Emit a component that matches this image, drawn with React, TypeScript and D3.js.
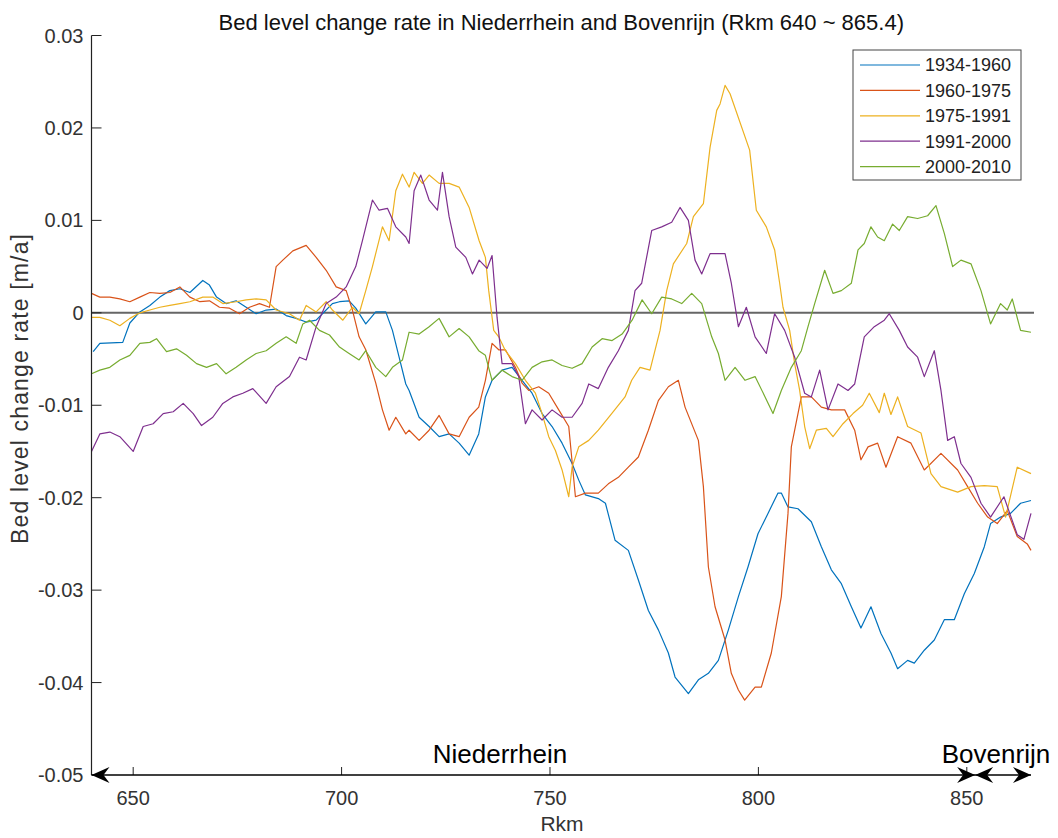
import React, { useRef, useEffect } from "react";
import * as d3 from "d3";

// [Rkm, bed level change rate in m/a]
const s1934_1960 = [
  [640.4, -0.0042], [642.0, -0.0033], [647.5, -0.0032], [649.2, -0.0011], [651.6, 0.0001],
  [654.0, 0.0008], [656.4, 0.0017], [658.8, 0.0024], [661.2, 0.0026], [663.6, 0.0022],
  [666.7, 0.0035], [668.3, 0.003], [670.0, 0.0017], [672.3, 0.001], [674.7, 0.0013],
  [677.1, 0.0006], [679.5, -0.0001], [681.9, 0.0003], [684.3, 0.0004], [686.7, -0.0003],
  [689.1, -0.0006], [691.5, -0.001], [693.9, -0.0008], [695.4, -0.0001], [697.8, 0.001],
  [699.5, 0.0012], [701.8, 0.0013], [703.4, 0.0005], [705.8, -0.0012], [708.2, 0.0001],
  [710.6, 0.0001], [712.2, -0.0019], [713.8, -0.0048], [715.4, -0.0077], [716.2, -0.0084],
  [718.6, -0.0113], [721.0, -0.0123], [723.4, -0.0134], [725.8, -0.0131], [728.2, -0.0141],
  [730.6, -0.0154], [732.9, -0.0131], [734.5, -0.0091], [736.1, -0.0073], [738.5, -0.0062],
  [740.9, -0.0059], [743.3, -0.0073], [745.7, -0.0087], [748.1, -0.0109], [750.5, -0.0123],
  [752.9, -0.0141], [755.3, -0.0163], [756.9, -0.0181], [758.5, -0.0197], [761.6, -0.0201],
  [763.3, -0.0206], [765.6, -0.0246], [768.8, -0.0257], [771.2, -0.0289], [773.6, -0.0322],
  [776.0, -0.0343], [778.4, -0.0368], [780.0, -0.0394], [783.2, -0.0412], [785.6, -0.0397],
  [788.0, -0.039], [790.4, -0.0376], [792.8, -0.0343], [795.2, -0.0307], [797.5, -0.0275],
  [799.9, -0.0239], [802.3, -0.0217], [804.7, -0.0195], [805.5, -0.0195], [807.1, -0.021],
  [809.5, -0.0212], [812.7, -0.0226], [815.1, -0.0253], [817.5, -0.0278], [819.9, -0.0293],
  [822.3, -0.0318], [824.6, -0.0341], [827.0, -0.0318], [829.4, -0.0347], [831.8, -0.0368],
  [833.4, -0.0385], [835.8, -0.0376], [837.4, -0.0379], [839.8, -0.0365], [842.2, -0.0354],
  [844.6, -0.0332], [847.0, -0.0332], [849.4, -0.0304], [851.8, -0.0282], [854.2, -0.0253],
  [855.7, -0.0228], [858.1, -0.0221], [860.5, -0.0217], [862.9, -0.0206], [865.4, -0.0203],
];

const s1960_1975 = [
  [640.0, 0.0021], [642.0, 0.0017], [644.4, 0.0017], [646.8, 0.0015], [649.2, 0.0012],
  [651.6, 0.0017], [654.0, 0.0022], [656.4, 0.0021], [658.8, 0.0022], [661.2, 0.0028],
  [663.6, 0.0017], [666.0, 0.0012], [668.3, 0.0013], [670.7, 0.0006], [673.1, 0.0005],
  [675.5, -0.0001], [677.9, 0.0006], [680.3, 0.001], [682.7, 0.0006], [684.3, 0.005],
  [685.9, 0.0057], [688.3, 0.0067], [691.5, 0.0073], [693.9, 0.006], [696.3, 0.0046],
  [698.7, 0.0028], [701.1, 0.0024], [702.6, 0.0003], [704.2, -0.0026], [705.8, -0.004],
  [708.2, -0.0076], [709.8, -0.0105], [711.4, -0.0127], [713.0, -0.0113], [715.4, -0.0131],
  [716.2, -0.0127], [718.6, -0.0138], [721.0, -0.0127], [723.4, -0.0111], [725.8, -0.0131],
  [728.2, -0.0134], [730.6, -0.0113], [732.9, -0.0102], [734.5, -0.0073], [736.1, -0.0033],
  [737.7, -0.004], [739.3, -0.004], [741.7, -0.0059], [743.3, -0.0076], [744.9, -0.0084],
  [747.3, -0.008], [749.7, -0.0087], [752.1, -0.0105], [754.5, -0.0123], [756.1, -0.0199],
  [758.5, -0.0195], [761.6, -0.0195], [764.0, -0.0185], [766.4, -0.0178], [768.8, -0.0167],
  [771.2, -0.0156], [773.6, -0.0127], [776.0, -0.0095], [778.4, -0.008], [780.8, -0.0073],
  [782.4, -0.0102], [785.6, -0.0138], [786.8, -0.0188], [788.0, -0.0275], [789.6, -0.0318],
  [792.0, -0.0354], [793.5, -0.039], [795.2, -0.0408], [796.7, -0.0419], [799.2, -0.0405],
  [800.7, -0.0405], [803.1, -0.0368], [805.5, -0.0307], [807.1, -0.0217], [807.9, -0.0145],
  [810.3, -0.0091], [812.7, -0.0091], [815.1, -0.0102], [817.5, -0.0105], [820.7, -0.0105],
  [823.1, -0.0127], [824.6, -0.0159], [826.3, -0.0145], [828.6, -0.0141], [830.6, -0.0167],
  [833.4, -0.0134], [836.6, -0.0141], [839.8, -0.017], [843.8, -0.0152], [847.8, -0.017],
  [850.2, -0.0188], [852.6, -0.0206], [855.0, -0.0221], [857.3, -0.0228], [859.7, -0.0214],
  [862.1, -0.0242], [864.5, -0.025], [865.4, -0.0257],
];

const s1975_1991 = [
  [640.0, -0.0005], [642.0, -0.0005], [644.4, -0.0008], [646.8, -0.0014], [649.2, -0.0006],
  [651.6, 0.0], [654.0, 0.0003], [656.4, 0.0006], [658.8, 0.0008], [661.2, 0.001],
  [663.6, 0.0012], [666.7, 0.0017], [669.1, 0.0017], [671.5, 0.001], [674.7, 0.0012],
  [677.1, 0.0014], [679.5, 0.0015], [681.9, 0.0014], [684.3, 0.0003], [687.5, -0.0001],
  [689.9, -0.0008], [691.5, 0.0008], [693.9, 0.0001], [696.3, 0.0012], [697.8, 0.0003],
  [700.3, -0.0008], [702.6, 0.0006], [704.2, -0.0001], [705.8, 0.0024], [707.4, 0.005],
  [709.8, 0.0093], [711.4, 0.0078], [713.0, 0.0132], [714.6, 0.015], [716.2, 0.0136],
  [717.4, 0.0152], [719.4, 0.014], [721.0, 0.0149], [723.4, 0.014], [725.8, 0.014],
  [728.2, 0.0136], [730.6, 0.0114], [733.0, 0.0078], [734.5, 0.006], [735.3, 0.0024],
  [736.5, -0.0019], [737.7, -0.0026], [739.3, -0.0041], [741.7, -0.0055], [744.1, -0.0073],
  [746.5, -0.0087], [748.1, -0.0109], [749.7, -0.0134], [751.3, -0.0149], [752.9, -0.017],
  [754.5, -0.0199], [755.3, -0.0167], [756.9, -0.0145], [759.3, -0.0138], [761.6, -0.0127],
  [764.8, -0.0109], [768.0, -0.0091], [769.6, -0.0073], [771.6, -0.0059], [774.0, -0.0062],
  [776.4, -0.0019], [778.0, 0.0024], [779.6, 0.0053], [782.8, 0.0075], [784.4, 0.0104],
  [786.8, 0.0118], [788.4, 0.0179], [790.0, 0.0219], [790.8, 0.0226], [792.0, 0.0246],
  [793.2, 0.0237], [797.9, 0.0176], [799.5, 0.0111], [801.9, 0.0093], [803.9, 0.0068],
  [805.1, 0.0032], [805.9, 0.0006], [807.5, -0.0019], [808.7, -0.0055], [809.9, -0.0084],
  [811.1, -0.0123], [812.3, -0.0147], [813.9, -0.0127], [816.3, -0.0125], [817.9, -0.0134],
  [820.3, -0.012], [822.7, -0.0109], [825.0, -0.01], [826.6, -0.0087], [829.0, -0.0108],
  [830.2, -0.0087], [831.8, -0.011], [833.4, -0.0091], [835.8, -0.0123], [839.0, -0.013],
  [841.4, -0.0174], [843.8, -0.0188], [847.8, -0.0194], [851.0, -0.0188], [854.2, -0.0187],
  [857.3, -0.0188], [859.3, -0.0221], [862.1, -0.0167], [865.4, -0.0174],
];

const s1991_2000 = [
  [640.0, -0.015], [642.0, -0.0131], [644.4, -0.0129], [646.8, -0.0134], [650.0, -0.015],
  [652.4, -0.0123], [654.8, -0.012], [657.2, -0.0109], [659.6, -0.0107], [662.0, -0.0098],
  [664.4, -0.0109], [666.4, -0.0122], [669.1, -0.0113], [671.5, -0.0098], [673.9, -0.0091],
  [676.3, -0.0087], [678.7, -0.0082], [681.9, -0.0098], [684.3, -0.008], [687.5, -0.0069],
  [689.9, -0.0048], [691.5, -0.0051], [693.9, -0.0015], [696.3, 0.001], [698.7, 0.0017],
  [701.1, 0.0028], [703.4, 0.005], [705.0, 0.0078], [707.4, 0.0122], [709.0, 0.0111],
  [711.0, 0.0113], [713.0, 0.0093], [715.4, 0.0082], [716.2, 0.0075], [717.4, 0.0132],
  [719.0, 0.0149], [721.0, 0.0122], [723.0, 0.0111], [724.2, 0.0152], [725.8, 0.0104],
  [727.4, 0.0071], [729.8, 0.006], [731.4, 0.0042], [733.0, 0.0057], [734.9, 0.0048],
  [736.1, 0.0062], [737.3, -0.0005], [738.5, -0.0055], [740.9, -0.0055], [742.5, -0.0069],
  [744.1, -0.012], [745.7, -0.0105], [748.1, -0.0116], [750.5, -0.0105], [752.9, -0.0113],
  [755.3, -0.0113], [757.7, -0.0098], [759.3, -0.0077], [761.6, -0.0082], [764.0, -0.0059],
  [766.4, -0.0041], [768.8, -0.0019], [770.4, 0.0024], [772.0, 0.0032], [774.4, 0.0089],
  [776.8, 0.0093], [779.2, 0.0098], [781.2, 0.0114], [783.2, 0.01], [784.8, 0.0057],
  [786.4, 0.0042], [788.4, 0.0064], [790.4, 0.0064], [792.0, 0.0064], [793.5, 0.0032],
  [795.2, -0.0015], [797.1, 0.0006], [799.2, -0.0026], [801.9, -0.0044], [803.9, -0.0001],
  [806.3, -0.0019], [808.7, -0.0048], [811.1, -0.0087], [812.7, -0.0091], [814.7, -0.0062],
  [816.7, -0.0105], [819.1, -0.0077], [821.5, -0.0084], [823.1, -0.0077], [825.4, -0.0026],
  [827.8, -0.0015], [830.2, -0.0008], [831.4, -0.0001], [833.8, -0.0019], [835.8, -0.0037],
  [838.2, -0.0048], [839.8, -0.0069], [842.2, -0.0041], [843.8, -0.0084], [845.4, -0.0138],
  [847.0, -0.0134], [848.6, -0.0163], [851.0, -0.0178], [853.4, -0.0206], [855.7, -0.0221],
  [858.9, -0.0199], [862.1, -0.024], [863.7, -0.0245], [865.4, -0.0217],
];

const s2000_2010 = [
  [640.0, -0.0066], [642.0, -0.0062], [644.4, -0.0059], [646.8, -0.0051], [649.2, -0.0046],
  [651.6, -0.0033], [654.0, -0.0032], [655.6, -0.0028], [658.0, -0.0042], [660.4, -0.0039],
  [662.8, -0.0046], [665.2, -0.0055], [667.6, -0.0059], [670.0, -0.0055], [672.3, -0.0066],
  [674.7, -0.0059], [677.1, -0.0051], [679.5, -0.0044], [681.9, -0.0041], [684.3, -0.0033],
  [686.7, -0.0026], [689.1, -0.0033], [690.7, -0.0012], [692.3, -0.0008], [694.7, -0.0019],
  [697.1, -0.0024], [699.5, -0.0037], [701.8, -0.0044], [704.2, -0.0051], [705.8, -0.0041],
  [708.2, -0.0059], [710.6, -0.0069], [712.2, -0.0059], [714.6, -0.0051], [716.2, -0.0021],
  [718.6, -0.0023], [721.0, -0.0015], [723.4, -0.0006], [725.8, -0.0026], [728.2, -0.0017],
  [730.6, -0.0026], [732.9, -0.0041], [734.5, -0.0046], [736.1, -0.0073], [738.5, -0.0062],
  [740.9, -0.0069], [743.3, -0.0073], [745.7, -0.0059], [748.1, -0.0053], [750.5, -0.0051],
  [752.9, -0.0057], [755.3, -0.006], [757.7, -0.0055], [760.1, -0.0037], [762.5, -0.0028],
  [764.9, -0.003], [767.3, -0.0023], [769.7, -0.0008], [772.1, 0.0014], [774.4, -0.0001],
  [776.8, 0.0017], [779.2, 0.0015], [781.6, 0.001], [784.0, 0.0021], [786.4, 0.001],
  [788.8, -0.0026], [790.4, -0.0044], [792.0, -0.0073], [794.4, -0.0059], [796.8, -0.0073],
  [799.2, -0.0069], [801.6, -0.0091], [803.5, -0.0109], [805.5, -0.0084], [807.9, -0.0059],
  [810.3, -0.0041], [811.9, -0.0015], [813.5, 0.001], [815.9, 0.0046], [817.9, 0.0021],
  [819.9, 0.0024], [822.3, 0.0032], [823.9, 0.0068], [825.4, 0.0075], [827.0, 0.0093],
  [828.6, 0.0082], [830.2, 0.0078], [832.2, 0.0096], [833.8, 0.0089], [835.8, 0.0104],
  [838.2, 0.0102], [840.6, 0.0105], [842.6, 0.0116], [844.6, 0.0086], [846.6, 0.005],
  [848.6, 0.0057], [851.0, 0.0053], [853.4, 0.0024], [855.7, -0.0012], [858.1, 0.001],
  [859.7, 0.0003], [860.9, 0.0015], [862.9, -0.0019], [865.4, -0.0021],
];

const seriesNames = ["1934-1960", "1960-1975", "1975-1991", "1991-2000", "2000-2010"];
const seriesColors = ["#0072BD", "#D95319", "#EDB120", "#7E2F8E", "#77AC30"];
const seriesData = [s1934_1960, s1960_1975, s1975_1991, s1991_2000, s2000_2010];

const xTicks = [650, 700, 750, 800, 850];
const yTicks = [0.03, 0.02, 0.01, 0, -0.01, -0.02, -0.03, -0.04, -0.05];

// river reaches drawn as arrows along the x axis
const reaches = [
  { name: "Niederrhein", from: 640, to: 852, labelAt: 738 },
  { name: "Bovenrijn", from: 852, to: 865.4, labelAt: 857 },
];

const FONT = "'Liberation Sans', Arial, Helvetica, sans-serif";

const App = () => {
  const svgRef = useRef(null);

  useEffect(() => {
    document.body.style.margin = "0";
    const svg = d3.select(svgRef.current);
    svg.selectAll("*").remove();

    const width = 1058;
    const height = 838;
    svg.attr("width", width).attr("height", height).style("background", "#fff");

    const x = d3.scaleLinear().domain([640, 865.4]).range([91.5, 1031]);
    const y = d3.scaleLinear().domain([-0.05, 0.03]).range([775, 35.5]);

    const y0 = y(-0.05);

    // Title
    svg.append("text")
      .attr("x", (x(640) + x(865.4)) / 2)
      .attr("y", 30)
      .attr("text-anchor", "middle")
      .style("font-family", FONT)
      .style("font-size", "22px")
      .style("fill", "#111")
      .text("Bed level change rate in Niederrhein and Bovenrijn (Rkm 640 ~ 865.4)");

    // Zero line
    svg.append("line")
      .attr("x1", x(640)).attr("x2", x(865.4) + 3)
      .attr("y1", y(0)).attr("y2", y(0))
      .style("stroke", "#666")
      .style("stroke-width", 2);

    // Series lines
    const line = d3.line()
      .x(d => x(d[0]))
      .y(d => y(d[1]));

    seriesData.forEach((data, i) => {
      svg.append("path")
        .datum(data)
        .attr("d", line)
        .style("fill", "none")
        .style("stroke", seriesColors[i])
        .style("stroke-width", 1.2)
        .style("stroke-linejoin", "round");
    });

    // Y axis
    const yAxis = svg.append("g");
    yAxis.append("line")
      .attr("x1", x(640)).attr("x2", x(640))
      .attr("y1", y(0.03)).attr("y2", y0)
      .style("stroke", "#222")
      .style("stroke-width", 1.2);
    yTicks.forEach(t => {
      yAxis.append("line")
        .attr("x1", x(640)).attr("x2", x(640) + 10)
        .attr("y1", y(t)).attr("y2", y(t))
        .style("stroke", "#222");
      yAxis.append("text")
        .attr("x", x(640) - 8)
        .attr("y", y(t))
        .attr("dy", "0.35em")
        .attr("text-anchor", "end")
        .style("font-family", FONT)
        .style("font-size", "20px")
        .style("fill", "#333")
        .text(t === 0 ? "0" : t.toFixed(2));
    });

    // X axis ticks and labels
    const xAxis = svg.append("g");
    xTicks.forEach(t => {
      xAxis.append("line")
        .attr("x1", x(t)).attr("x2", x(t))
        .attr("y1", y0).attr("y2", y0 - 8)
        .style("stroke", "#222");
      xAxis.append("text")
        .attr("x", x(t))
        .attr("y", y0 + 30)
        .attr("text-anchor", "middle")
        .style("font-family", FONT)
        .style("font-size", "20px")
        .style("fill", "#333")
        .text(t);
    });

    // Axis line with reach arrows
    xAxis.append("line")
      .attr("x1", x(640)).attr("x2", x(865.4))
      .attr("y1", y0).attr("y2", y0)
      .style("stroke", "#000")
      .style("stroke-width", 1.5);

    const arrowHead = (tip, dir) => {
      const b = tip - dir * 18;
      const n = tip - dir * 12;
      return `M${tip},${y0} L${b},${y0 - 8} L${n},${y0} L${b},${y0 + 8} Z`;
    };

    reaches.forEach(r => {
      xAxis.append("path").attr("d", arrowHead(x(r.from), -1)).style("fill", "#000");
      xAxis.append("path").attr("d", arrowHead(x(r.to), 1)).style("fill", "#000");
      xAxis.append("text")
        .attr("x", x(r.labelAt))
        .attr("y", y0 - 12)
        .attr("text-anchor", "middle")
        .style("font-family", FONT)
        .style("font-size", "26px")
        .style("fill", "#000")
        .text(r.name);
    });

    // Axis labels
    svg.append("text")
      .attr("x", x(750) + 12)
      .attr("y", 831)
      .attr("text-anchor", "middle")
      .style("font-family", FONT)
      .style("font-size", "21px")
      .style("fill", "#333")
      .text("Rkm");

    svg.append("text")
      .attr("transform", "rotate(-90)")
      .attr("x", -389)
      .attr("y", 28)
      .attr("text-anchor", "middle")
      .attr("textLength", 310)
      .attr("lengthAdjust", "spacing")
      .style("font-family", FONT)
      .style("font-size", "23px")
      .style("fill", "#333")
      .text("Bed level change rate [m/a]");

    // Legend
    const legend = svg.append("g").attr("transform", "translate(853,50)");
    legend.append("rect")
      .attr("width", 168).attr("height", 130)
      .style("fill", "#fff")
      .style("stroke", "#444")
      .style("stroke-width", 1);
    seriesNames.forEach((name, i) => {
      const ly = 15 + i * 25.4;
      legend.append("line")
        .attr("x1", 7).attr("x2", 67)
        .attr("y1", ly).attr("y2", ly)
        .style("stroke", seriesColors[i])
        .style("stroke-width", 1.2);
      legend.append("text")
        .attr("x", 72)
        .attr("y", ly)
        .attr("dy", "0.35em")
        .style("font-family", FONT)
        .style("font-size", "18px")
        .style("fill", "#222")
        .text(name);
    });
  }, []);

  return (
    <div>
      <svg ref={svgRef}></svg>
    </div>
  );
};

export default App;
